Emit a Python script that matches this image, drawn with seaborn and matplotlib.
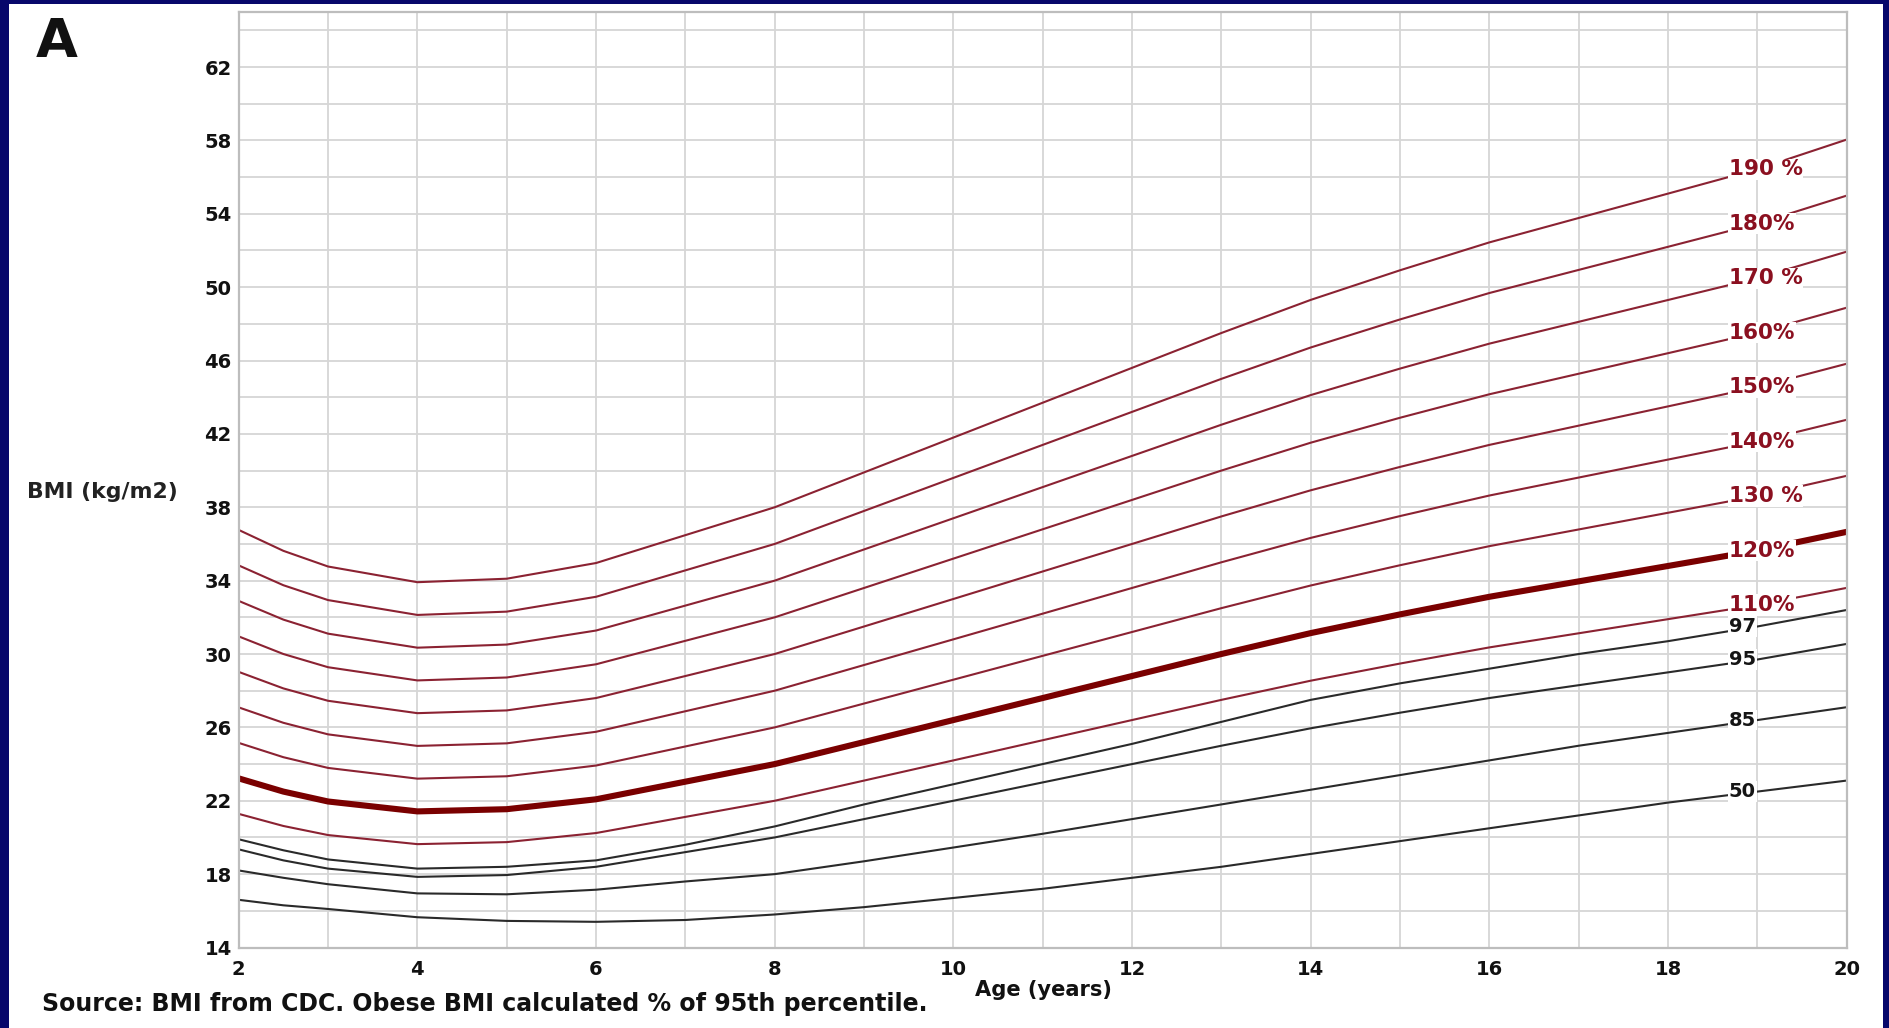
import numpy as np
import pandas as pd
import matplotlib
matplotlib.use("Agg")
import matplotlib.pyplot as plt
import seaborn as sns
from matplotlib.patches import Rectangle
from matplotlib.ticker import MultipleLocator

# CDC BMI-for-age reference curves (boys), kg/m2
ages = [2, 2.5, 3, 4, 5, 6, 7, 8, 9, 10, 11, 12, 13, 14, 15, 16, 17, 18, 19, 20]
bmi_p50 = [16.6, 16.3, 16.1, 15.65, 15.45, 15.4, 15.5, 15.8, 16.2, 16.7, 17.2,
           17.8, 18.4, 19.1, 19.8, 20.5, 21.2, 21.9, 22.5, 23.1]
bmi_p85 = [18.2, 17.8, 17.45, 16.95, 16.9, 17.15, 17.6, 18.0, 18.7, 19.45, 20.2,
           21.0, 21.8, 22.6, 23.4, 24.2, 25.0, 25.7, 26.4, 27.1]
bmi_p95 = [19.35, 18.75, 18.3, 17.85, 17.95, 18.4, 19.2, 20.0, 21.0, 22.0, 23.0,
           24.0, 25.0, 25.95, 26.8, 27.6, 28.3, 29.0, 29.7, 30.55]
bmi_p97 = [19.9, 19.3, 18.8, 18.3, 18.4, 18.75, 19.6, 20.6, 21.8, 22.9, 24.0,
           25.1, 26.3, 27.5, 28.4, 29.2, 30.0, 30.7, 31.5, 32.4]

centile_names = ["50", "85", "95", "97"]
centile_values = [bmi_p50, bmi_p85, bmi_p95, bmi_p97]

# obesity bands expressed as a percentage of the 95th percentile
obese_levels = [110, 120, 130, 140, 150, 160, 170, 180, 190]
obese_names = ["110%", "120%", "130 %", "140%", "150%", "160%", "170 %", "180%", "190 %"]

x_ticks = list(range(2, 21, 2))
y_ticks = list(range(14, 63, 4))

NAVY = "#07076b"
RED = "#8b2232"
DARK_RED = "#7a0000"
LABEL_RED = "#8b1020"
BLACK = "#2a2a2a"

# long-form table of every curve
rows = []
for name, vals in zip(centile_names, centile_values):
    for a, v in zip(ages, vals):
        rows.append({"curve": name, "group": "centile", "age": a, "bmi": v})
for lvl, name in zip(obese_levels, obese_names):
    grp = "main" if lvl == 120 else "obese"
    for a, v in zip(ages, bmi_p95):
        rows.append({"curve": name, "group": grp, "age": a, "bmi": v * lvl / 100.0})
df = pd.DataFrame(rows)

sns.set_theme(style="white")
plt.rcParams["font.family"] = ["DejaVu Sans"]
plt.rcParams["font.weight"] = "bold"

W, H = 1890, 1028
fig = plt.figure(figsize=(W / 100, H / 100), dpi=100)
fig.patch.set_facecolor(NAVY)
fig.add_artist(Rectangle((9 / W, 0), (1883 - 9) / W, (H - 4) / H,
                         transform=fig.transFigure, facecolor="white",
                         edgecolor="none", zorder=-10))

left, right, top, bottom = 238.7, 1846.7, 12, 947.5
ax = fig.add_axes([left / W, 1 - bottom / H, (right - left) / W, (bottom - top) / H])
ax.set_facecolor("white")

sns.lineplot(data=df[df.group == "centile"], x="age", y="bmi", units="curve",
             estimator=None, color=BLACK, lw=1.5, ax=ax, legend=False)
sns.lineplot(data=df[df.group == "obese"], x="age", y="bmi", units="curve",
             estimator=None, color=RED, lw=1.5, ax=ax, legend=False)
sns.lineplot(data=df[df.group == "main"], x="age", y="bmi", units="curve",
             estimator=None, color=DARK_RED, lw=4.4, ax=ax, legend=False)

# curve labels near the right edge
i19 = ages.index(19)
for name, vals in zip(centile_names, centile_values):
    ax.text(18.68, vals[i19], name, ha="left", va="center", fontsize=14,
            fontweight="bold", color="#151515", zorder=5,
            bbox=dict(facecolor="white", edgecolor="none", pad=0.5))
for lvl, name in zip(obese_levels, obese_names):
    ax.text(18.68, bmi_p95[i19] * lvl / 100.0, name, ha="left", va="center",
            fontsize=15.5, fontweight="bold", color=LABEL_RED, zorder=5,
            bbox=dict(facecolor="white", edgecolor="none", pad=0.5))

ax.set_xlim(2, 20)
ax.set_ylim(14, 65)
ax.set_xticks(x_ticks)
ax.set_yticks(y_ticks)
ax.xaxis.set_minor_locator(MultipleLocator(1))
ax.yaxis.set_minor_locator(MultipleLocator(2))
ax.grid(True, which="both", color="#d6d6d6", lw=1.3)
ax.set_axisbelow(True)
ax.tick_params(which="both", length=0)
ax.tick_params(axis="y", pad=5, labelsize=14, labelcolor="#111111")
ax.tick_params(axis="x", pad=9, labelsize=14, labelcolor="#111111")
for lab in ax.get_xticklabels() + ax.get_yticklabels():
    lab.set_fontweight("bold")
ax.set_xlabel("")
ax.set_ylabel("")
for s in ax.spines.values():
    s.set_visible(True)
    s.set_color("#bdbdbd")
    s.set_linewidth(1.6)

fig.text(36 / W, 1 - 57 / H, "A", ha="left", va="baseline", fontsize=39,
         fontweight="bold", color="#111111")
ylab = fig.text(27 / W, 1 - 492 / H, "BMI (kg/m2)", ha="left", va="center",
                fontsize=14, fontweight="bold", color="#222222")
age_lab = fig.text(1043 / W, 1 - 990 / H, "Age (years)", ha="center", va="center",
                   fontsize=15, fontweight="bold", color="#111111")
src = fig.text(42 / W, 1 - 1004 / H,
               "Source: BMI from CDC. Obese BMI calculated % of 95th percentile.",
               ha="left", va="center", fontsize=15, fontweight="bold", color="#111111")

# scale the axis-title and footer texts to their intended widths
fig.canvas.draw()
rend = fig.canvas.get_renderer()
for t, target in ((src, 888), (age_lab, 137), (ylab, 150)):
    w = t.get_window_extent(rend).width
    t.set_fontsize(t.get_fontsize() * target / w)

fig.savefig("out.png", dpi=100, facecolor=fig.get_facecolor())
